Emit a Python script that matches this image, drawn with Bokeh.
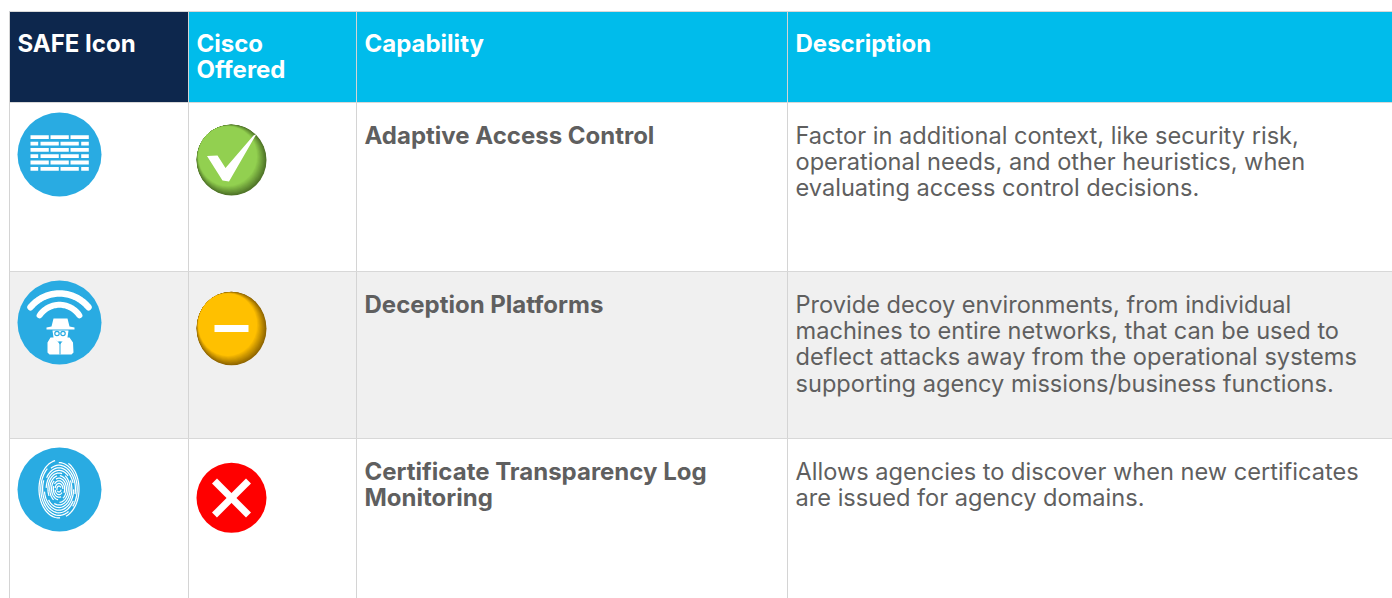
from bokeh.plotting import figure
from bokeh.models import Range1d
from bokeh.core.properties import value
from bokeh.embed import file_html
from bokeh.resources import INLINE
import numpy as np

headers = ["SAFE Icon", "Cisco\nOffered", "Capability", "Description"]
capabilities = ["Adaptive Access Control", "Deception Platforms", "Certificate Transparency Log\nMonitoring"]
descriptions = [
    "Factor in additional context, like security risk,\noperational needs, and other heuristics, when\nevaluating access control decisions.",
    "Provide decoy environments, from individual\nmachines to entire networks, that can be used to\ndeflect attacks away from the operational systems\nsupporting agency missions/business functions.",
    "Allows agencies to discover when new certificates\nare issued for agency domains.",
]

FONT = "Inter"
W, H = 1392, 598
COLS = [9, 188, 356, 787, 1392]
ROWS = [11, 102, 271, 438, 598]
BASE = [134.5, 303.5, 470.5]
ICON_Y = [154, 322, 489]
BADGE_Y = [159.5, 328, 497.3]
BLUE = "#29abe2"
GREY = "#5f5f5f"

p = figure(width=W, height=H, x_range=Range1d(0, W), y_range=Range1d(H, 0),
           x_axis_type=None, y_axis_type=None, toolbar_location=None, output_backend="svg",
           min_border=0, outline_line_color=None, background_fill_color="white", border_fill_color="white")
p.grid.visible = False


def box(x0, x1, y0, y1, c):
    p.quad(left=[x0], right=[x1], top=[y0], bottom=[y1], fill_color=c, line_color=None)


box(COLS[0], COLS[1], ROWS[0], ROWS[1], "#0d274d")
box(COLS[1], COLS[4], ROWS[0], ROWS[1], "#00bceb")
box(COLS[0], COLS[4], ROWS[2], ROWS[3], "#f0f0f0")

for x in COLS[:-1]:
    p.line([x, x], [ROWS[0], H], line_color="#d4d4d4", line_width=1)
for y in ROWS[:-1]:
    p.line([COLS[0], W], [y, y], line_color="#d8d8d8", line_width=1)


def text(x, y, s, size, color, style="normal", lh=26.4):
    for i, line in enumerate(s.split("\n")):
        p.text(x=[x], y=[y + i * lh], text=[line], text_font=value(FONT), text_font_size=f"{size}px",
               text_color=color, text_font_style=style, text_baseline="alphabetic", text_align="left")


HX = [17, 196, 364, 795]
for x, h in zip(HX, headers):
    text(x, 43, h, 24, "white", "bold")
for y, c, d in zip(BASE, capabilities, descriptions):
    text(364, y, c, 24, GREY, "bold")
    text(795, y, d, 23.6, GREY)

# blue circle icons
for y in ICON_Y:
    p.circle(x=[59], y=[y], radius=42, fill_color=BLUE, line_color=None)

# wall icon
y0 = ICON_Y[0]
for i in range(6):
    yy = y0 - 17.3 + i * 6.33
    if i % 2 == 0:
        segs = [(30, 48.3), (50, 68.3), (70, 88.3)]
    else:
        segs = [(30, 37.7), (40, 58.3), (60, 78.3), (80.7, 88.3)]
    for a, b in segs:
        box(a, b, yy - 1.9, yy + 1.9, "white")

# spy icon
y1 = ICON_Y[1]
for rad, cyy, half, lw in [(37.5, 330.5, 50.6, 6.5), (24, 328.3, 56, 6)]:
    t = np.radians(np.linspace(270 - half, 270 + half, 40))
    p.line(59 + rad * np.cos(t), cyy + rad * np.sin(t), line_color="white", line_width=lw, line_cap="round")
p.patch(x=[51, 53, 67, 69, 74, 74, 46, 46], y=[y1 + 4, y1 - 4, y1 - 4, y1 + 4, y1 + 5, y1 + 7, y1 + 7, y1 + 5],
        fill_color="white", line_color=None)
p.patch(x=[52, 68, 67, 63, 57, 53], y=[y1 + 8, y1 + 8, y1 + 15, y1 + 19, y1 + 19, y1 + 15], fill_color="white", line_color=None)
for gx in (56.5, 62.5):
    p.circle(x=[gx], y=[y1 + 11], radius=2.2, fill_color="white", line_color=BLUE, line_width=1.2)
p.patch(x=[50, 54, 59.5, 65, 69, 72.5, 73, 71, 49, 47, 47],
        y=[y1 + 15, y1 + 15, y1 + 22, y1 + 15, y1 + 15, y1 + 20, y1 + 30, y1 + 32, y1 + 32, y1 + 30, y1 + 20],
        fill_color="white", line_color=None)
p.line([59.5, 59.5], [y1 + 19, y1 + 32], line_color=BLUE, line_width=1)

# fingerprint icon
cx, cy = 58.5, 488.5
for k, rad in enumerate(np.arange(3, 29.5, 2.6)):
    rx, ry = rad * 0.69, rad
    for s, e in [(0.2 + k * 0.5, 2.5 + k * 0.5), (2.8 + k * 0.5, 5.8 + k * 0.5)]:
        t = np.linspace(s, e, 26)
        p.line(cx + rx * np.cos(t), cy + ry * np.sin(t), line_color="white", line_width=1.25)


def sphere(cy_, light, dark, ry):
    lr, lg, lb = [int(light[i:i + 2], 16) for i in (1, 3, 5)]
    dr, dg, db = [int(dark[i:i + 2], 16) for i in (1, 3, 5)]
    n = 16
    for i in range(n):
        f = i / (n - 1)
        c = "#%02x%02x%02x" % (int(dr + (lr - dr) * f), int(dg + (lg - dg) * f), int(db + (lb - db) * f))
        p.ellipse(x=[231 - 3.8 * f], y=[cy_ - 3.8 * f], width=2 * (35 - 5.6 * f), height=2 * (ry - 5.6 * f),
                  fill_color=c, line_color=None)


# status badges
sphere(BADGE_Y[0], "#92d050", "#4f7328", 35.5)
p.patch(x=[206.5, 217, 225, 253, 256, 228.5, 222], y=[155.5, 155, 167.5, 135, 133.5, 181, 180],
        fill_color="white", line_color=None)

sphere(BADGE_Y[1], "#ffc000", "#8f6500", 36.8)
box(214, 248, 324.5, 331.5, "white")

p.circle(x=[231], y=[BADGE_Y[2]], radius=35, fill_color="#ff0000", line_color=None)
p.line([214, 248], [480.5, 514.5], line_color="white", line_width=7)
p.line([248, 214], [480.5, 514.5], line_color="white", line_width=7)

open("out.html", "w").write(file_html(p, INLINE))
